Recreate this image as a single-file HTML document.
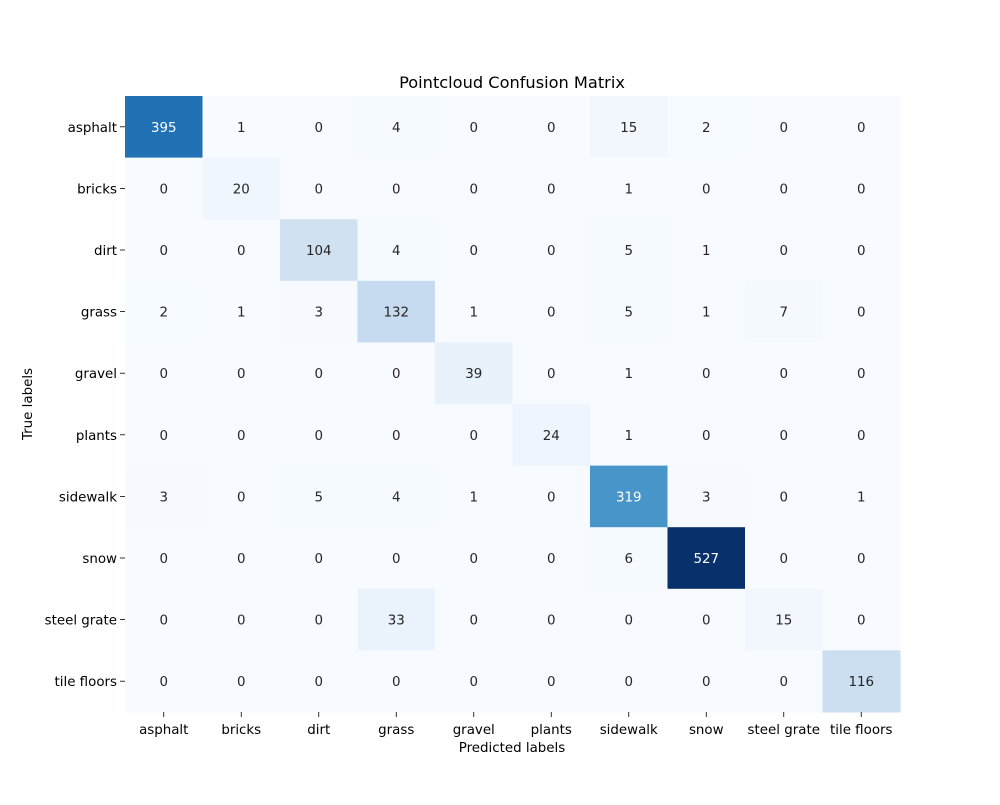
<!DOCTYPE html>
<html><head><meta charset="utf-8"><style>
body{margin:0;background:#fff;}
svg text{font-family:"DejaVu Sans","Liberation Sans",sans-serif;}
</style></head><body>
<svg id="chart" width="1000" height="800" xmlns="http://www.w3.org/2000/svg">
<text x="512" y="88" text-anchor="middle" font-size="16.2" fill="#000">Pointcloud Confusion Matrix</text>
<text x="512" y="752" text-anchor="middle" font-size="13.4" fill="#000">Predicted labels</text>
<text x="32" y="404" text-anchor="middle" font-size="13.4" fill="#000" transform="rotate(-90 32 404)">True labels</text>
<g id="cells"></g>
</svg>
<script>
const predictedLabels=["asphalt","bricks","dirt","grass","gravel","plants","sidewalk","snow","steel grate","tile floors"];
const trueLabels=["asphalt","bricks","dirt","grass","gravel","plants","sidewalk","snow","steel grate","tile floors"];
const row0=[395,1,0,4,0,0,15,2,0,0];
const row1=[0,20,0,0,0,0,1,0,0,0];
const row2=[0,0,104,4,0,0,5,1,0,0];
const row3=[2,1,3,132,1,0,5,1,7,0];
const row4=[0,0,0,0,39,0,1,0,0,0];
const row5=[0,0,0,0,0,24,1,0,0,0];
const row6=[3,0,5,4,1,0,319,3,0,1];
const row7=[0,0,0,0,0,0,6,527,0,0];
const row8=[0,0,0,33,0,0,0,0,15,0];
const row9=[0,0,0,0,0,0,0,0,0,116];
const matrix=[row0,row1,row2,row3,row4,row5,row6,row7,row8,row9];

const X0=125,X1=900,Y0=96,Y1=712;
const cw=(X1-X0)/predictedLabels.length, ch=(Y1-Y0)/trueLabels.length;
const xPos=i=>X0+i*cw, yPos=j=>Y0+j*ch;
const stops=["#f7fbff","#deebf7","#c6dbef","#9ecae1","#6baed6","#4292c6","#2171b5","#08519c","#08306b"].map(h=>[1,3,5].map(k=>parseInt(h.substr(k,2),16)));
let vmax=0;matrix.forEach(r=>r.forEach(v=>{if(v>vmax)vmax=v;}));
function color(v){let t=Math.max(0,Math.min(1,v/vmax))*(stops.length-1);let i=Math.min(Math.floor(t),stops.length-2);let f=t-i;
 return stops[i].map((c,k)=>Math.round(c+(stops[i+1][k]-c)*f));}
function lum(c){const l=c.map(x=>{x/=255;return x<=0.03928?x/12.92:Math.pow((x+0.055)/1.055,2.4);});return 0.2126*l[0]+0.7152*l[1]+0.0722*l[2];}
const NS="http://www.w3.org/2000/svg";
const svg=document.getElementById("chart"),g=document.getElementById("cells");
function mk(tag,attrs){const e=document.createElementNS(NS,tag);for(const k in attrs)e.setAttribute(k,attrs[k]);return e;}
matrix.forEach((r,j)=>r.forEach((v,i)=>{
 const c=color(v);
 const rect=mk("rect",{x:xPos(i),y:yPos(j),width:cw+0.5,height:ch+0.5,fill:`rgb(${c.join(",")})`});
 
 
 g.appendChild(rect);
 const t=mk("text",{x:xPos(i)+cw/2,y:yPos(j)+ch/2+5,"text-anchor":"middle","font-size":"13.4",fill:lum(c)>0.408?"#262626":"#ffffff"});
 t.textContent=v;
 
 
 g.appendChild(t);
}));
predictedLabels.forEach((l,i)=>{
 const x=xPos(i)+cw/2;
 const tk=mk("line",{x1:x,x2:x,y1:Y1,y2:Y1+5,stroke:"#000","stroke-width":"0.8"});
 
 
 svg.appendChild(tk);
 const t=mk("text",{x:x,y:Y1+22,"text-anchor":"middle","font-size":"13.4",fill:"#000"});
 t.textContent=l;
 
 
 svg.appendChild(t);
});
trueLabels.forEach((l,j)=>{
 const y=yPos(j)+ch/2;
 const tk=mk("line",{x1:X0-5,x2:X0,y1:y,y2:y,stroke:"#000","stroke-width":"0.8"});
 
 
 svg.appendChild(tk);
 const t=mk("text",{x:X0-8,y:y+5,"text-anchor":"end","font-size":"13.4",fill:"#000"});
 t.textContent=l;
 
 
 svg.appendChild(t);
});
</script>
</body></html>
